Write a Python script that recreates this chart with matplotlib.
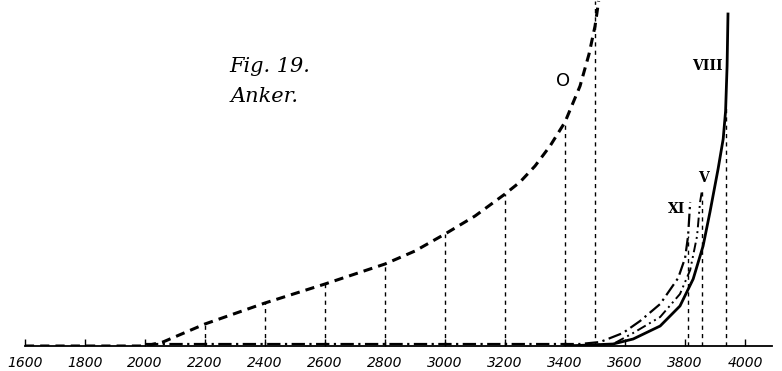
import numpy as np
import matplotlib
matplotlib.use("Agg")
import matplotlib.pyplot as plt

# x positions (abscissa) and curve heights
ticks = [1600, 1800, 2000, 2200, 2400, 2600, 2800, 3000, 3200, 3400, 3600, 3800, 4000]

# curve O (dashed)
o_x = [1600, 2000, 2060, 2200, 2400, 2600, 2800, 2900, 3000, 3100, 3200, 3250, 3300, 3350,
       3400, 3450, 3480, 3500, 3512]
o_y = [0, 0, 4, 22, 43, 62, 82, 95, 112, 130, 152, 164, 180, 200,
       224, 260, 292, 320, 345]

# curve VIII (solid)
viii_x = [3400, 3560, 3627, 3717, 3783, 3827, 3860, 3883, 3910, 3927, 3935, 3940, 3943]
viii_y = [0, 2, 7, 20, 40, 67, 100, 134, 177, 207, 235, 280, 332]

# curve XI (dash-dot)
xi_x = [2000, 3450, 3517, 3593, 3650, 3717, 3777, 3800, 3810, 3817]
xi_y = [2, 2, 4, 13, 25, 42, 68, 88, 110, 144]

# curve V (dash-dot-dot)
v_x = [3400, 3560, 3627, 3717, 3783, 3817, 3840, 3850, 3857]
v_y = [0, 2, 13, 29, 52, 76, 110, 144, 157]

# vertical ordinates (thin dashed)
ord_x = [2200, 2400, 2600, 2800, 3000, 3200, 3400, 3500, 3810, 3857, 3937]
ord_y = [22, 43, 62, 82, 112, 152, 224, 345, 110, 157, 240]

fig = plt.figure(figsize=(7.82, 3.71), dpi=100)
ax = fig.add_axes([0, 25 / 371, 1, 346 / 371])
ax.set_xlim(1517, 4123)
ax.set_ylim(0, 346)

# ordinates
ax.vlines(ord_x, 0, ord_y, colors="black", linewidth=1.0, linestyles=[(0, (3, 3))])

ax.plot(o_x, o_y, color="black", linewidth=2.2, linestyle=(0, (3, 2)))
ax.plot(viii_x, viii_y, color="black", linewidth=2.0, linestyle="-")
ax.plot(xi_x, xi_y, color="black", linewidth=1.6, linestyle=(0, (6, 2, 1, 2)))
ax.plot(v_x, v_y, color="black", linewidth=1.4, linestyle=(0, (5, 2, 1, 2, 1, 2)))

# labels
ax.text(3395, 265, "O", fontsize=13, family="DejaVu Sans", ha="center", va="center")
ax.text(3925, 280, "VIII", fontsize=10, family="DejaVu Serif", weight="bold", ha="right", va="center")
ax.text(3862, 168, "V", fontsize=10, family="DejaVu Serif", weight="bold", ha="center", va="center")
ax.text(3800, 137, "XI", fontsize=10, family="DejaVu Serif", weight="bold", ha="right", va="center")
ax.text(2417, 280, "Fig. 19.", fontsize=15, family="DejaVu Serif", style="italic", ha="center", va="center")
ax.text(2400, 250, "Anker.", fontsize=15, family="DejaVu Serif", style="italic", ha="center", va="center")

# axis
for s in ["top", "left", "right"]:
    ax.spines[s].set_visible(False)
ax.spines["bottom"].set_bounds(1600, 4090)
ax.spines["bottom"].set_linewidth(1.3)
ax.set_yticks([])
ax.set_xticks(ticks)
ax.set_xticklabels([str(t) for t in ticks], fontsize=10, style="italic")
ax.tick_params(axis="x", direction="in", length=5, width=1, pad=7)

fig.savefig("out.png", dpi=100)
